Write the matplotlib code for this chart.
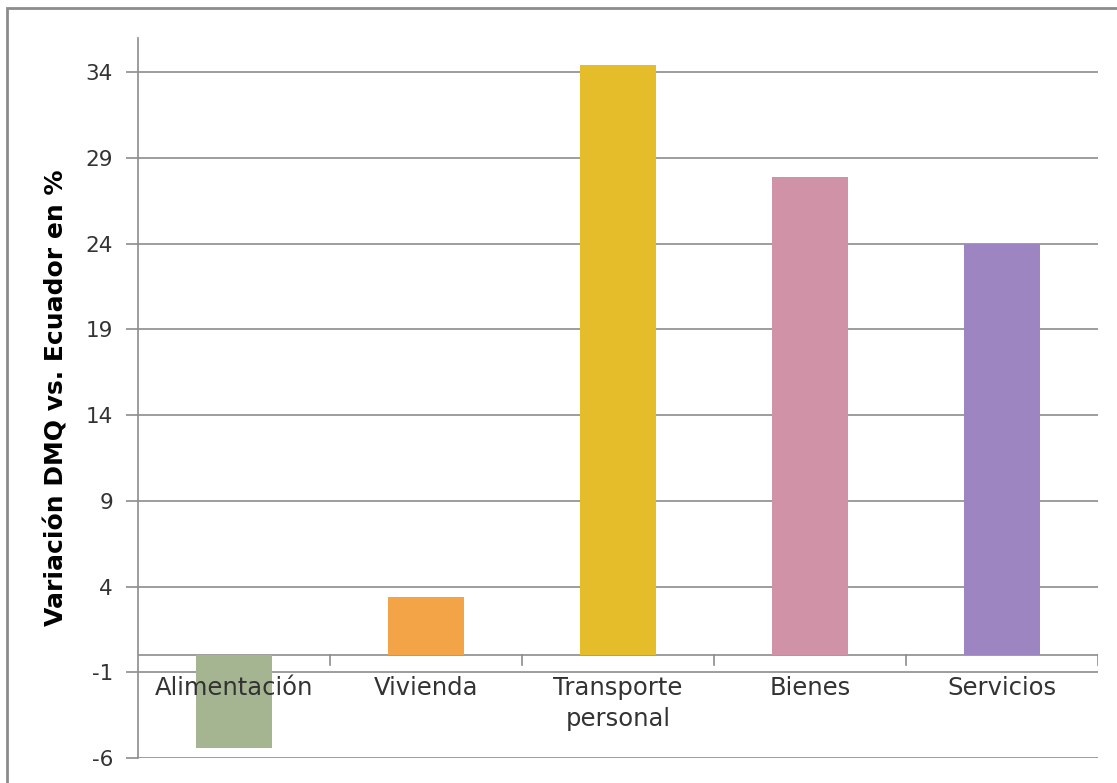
import matplotlib
matplotlib.use("Agg")
from matplotlib import pyplot as plt
from matplotlib.patches import Rectangle
from matplotlib.transforms import offset_copy

categories = ["Alimentación", "Vivienda", "Transporte\npersonal", "Bienes", "Servicios"]
values = [-5.4, 3.4, 34.4, 27.9, 24.0]
colors = ["#A5B592", "#F3A447", "#E5BC29", "#D092A7", "#9C85C0"]
yticks = [-6, -1, 4, 9, 14, 19, 24, 29, 34]

plt.rcParams["font.family"] = ["DejaVu Sans"]
grid_c = "#8C8C8C"
text_c = "#333333"

fig = plt.figure(figsize=(11.17, 7.83), dpi=100)
# outer chart frame (cut off at right and bottom like the reference)
fig.patches.append(Rectangle((7 / 1117, -0.05), 1.2, 1 - 8 / 783 + 0.05,
                             transform=fig.transFigure, fill=False,
                             edgecolor="#8C8C8C", linewidth=2))

ax = fig.add_axes([138 / 1117, 1 - 758 / 783, 960 / 1117, 720 / 783])
x = list(range(len(categories)))
ax.bar(x, values, width=0.4, color=colors, zorder=3)

ax.set_xlim(-0.5, len(categories) - 0.5)
ax.set_ylim(-6, 36)
ax.set_yticks(yticks)
ax.set_yticklabels([str(v) for v in yticks], fontsize=15.5, color=text_c)
ax.yaxis.grid(True, color=grid_c, linewidth=1.2, zorder=0)
ax.tick_params(axis="y", length=9, width=1.2, color=grid_c, pad=9)
ax.set_xticks([])

for s in ["top", "right", "bottom"]:
    ax.spines[s].set_visible(False)
ax.spines["left"].set_color(grid_c)
ax.spines["left"].set_linewidth(1.2)

# category axis at zero with boundary ticks
ax.axhline(0, color=grid_c, linewidth=1.2, zorder=2)
for b in range(1, len(categories) + 1):
    ax.plot([b - 0.5, b - 0.5], [0, -0.55], color=grid_c, linewidth=1.2, zorder=2)

for i, c in enumerate(categories):
    ax.text(i, 0, c, transform=offset_copy(ax.transData, fig=fig, x=0, y=-21, units="dots"),
            ha="center", va="top", fontsize=17.5, color=text_c,
            linespacing=1.35, zorder=4)

ax.set_ylabel("Variación DMQ vs. Ecuador en %", fontsize=18, fontweight="bold",
              color="black", labelpad=12)

fig.savefig("out.png", dpi=100)
